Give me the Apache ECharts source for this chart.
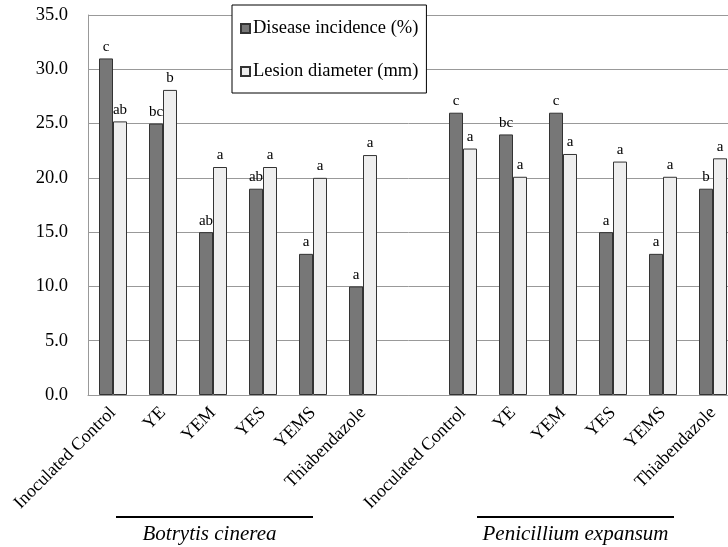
<!DOCTYPE html>
<html>
<head>
<meta charset="utf-8">
<script src="https://cdn.jsdelivr.net/npm/echarts@6/dist/echarts.min.js"></script>
<style>html,body{margin:0;padding:0;background:#fff;}#c{width:728px;height:547px;}</style>
</head>
<body>
<div id="c"></div>
<script>
var categories = ['Inoculated Control','YE','YEM','YES','YEMS','Thiabendazole','',
                  'Inoculated Control','YE','YEM','YES','YEMS','Thiabendazole'];
var diseaseIncidence = [31, 25, 15, 19, 13, 10, null, 26, 24, 26, 15, 13, 19];
var lesionDiameter   = [25.2, 28.1, 21, 21, 20, 22.1, null, 22.7, 20.1, 22.2, 21.5, 20.1, 21.8];
var diseaseLetters   = ['c','bc','ab','ab','a','a','', 'c','bc','c','a','a','b'];
var lesionLetters    = ['ab','b','a','a','a','a','', 'a','a','a','a','a','a'];
var yTicks = [0, 5, 10, 15, 20, 25, 30, 35];
var groupNames = ['Botrytis cinerea', 'Penicillium expansum'];

var serif = '"Liberation Serif", "Times New Roman", serif';
var chart = echarts.init(document.getElementById('c'));
chart.setOption({
  animation: false,
  backgroundColor: '#fff',
  grid: { left: 88, top: 15, width: 650, bottom: 152, containLabel: false, outerBoundsMode: 'none' },
  legend: {
    orient: 'vertical', left: 232, top: 5,
    padding: [14, 8, 12, 8], itemGap: 24,
    borderColor: '#000', borderWidth: 1, backgroundColor: '#fff',
    icon: 'rect', itemWidth: 9, itemHeight: 9,
    textStyle: { fontFamily: serif, fontSize: 18.5, color: '#000', padding: [0,0,0,-2] },
    data: ['Disease incidence (%)', 'Lesion diameter (mm)']
  },
  xAxis: {
    type: 'category', data: categories,
    axisLine: { lineStyle: { color: '#999', width: 1 } },
    axisTick: { length: 5, lineStyle: { color: '#999' } },
    axisLabel: { rotate: 45, interval: 0, margin: 15, fontFamily: serif, fontSize: 18, color: '#000' }
  },
  yAxis: {
    type: 'value', min: yTicks[0], max: yTicks[yTicks.length-1], interval: 5,
    axisLine: { show: true, lineStyle: { color: '#999' } },
    axisTick: { show: false },
    splitLine: { lineStyle: { color: '#999', width: 1 } },
    axisLabel: { margin: 20, fontFamily: serif, fontSize: 18.5, color: '#000',
                 formatter: function(v){ return v.toFixed(1); } }
  },
  series: [
    {
      name: 'Disease incidence (%)', type: 'bar', data: diseaseIncidence,
      barWidth: 14, barGap: '0%',
      itemStyle: { color: '#777777', borderColor: '#333', borderWidth: 1 },
      label: { show: true, position: 'top', distance: 4, fontFamily: serif, fontSize: 15, color: '#000',
               formatter: function(p){ return diseaseLetters[p.dataIndex]; } }
    },
    {
      name: 'Lesion diameter (mm)', type: 'bar', data: lesionDiameter,
      barWidth: 14, barGap: '0%',
      itemStyle: { color: '#eeeeee', borderColor: '#333', borderWidth: 1 },
      label: { show: true, position: 'top', distance: 4, fontFamily: serif, fontSize: 15, color: '#000',
               formatter: function(p){ return lesionLetters[p.dataIndex]; } }
    }
  ]
});

var c0 = chart.convertToPixel({xAxisIndex:0}, 0);
var c4 = chart.convertToPixel({xAxisIndex:0}, 4);
var c7 = chart.convertToPixel({xAxisIndex:0}, 7);
var c11 = chart.convertToPixel({xAxisIndex:0}, 11);
var lineY = 517, textY = 534;
chart.setOption({
  graphic: [
    { type: 'line', shape: { x1: c0 + 3, y1: lineY, x2: c4, y2: lineY }, style: { stroke: '#000', lineWidth: 1.8 } },
    { type: 'line', shape: { x1: c7 + 14, y1: lineY, x2: c11 + 11, y2: lineY }, style: { stroke: '#000', lineWidth: 1.8 } },
    { type: 'text', x: (c0 + 3 + c4) / 2 - 5, y: textY,
      style: { text: groupNames[0], font: 'italic 21px ' + serif, fill: '#000', textAlign: 'center', textVerticalAlign: 'middle' } },
    { type: 'text', x: (c7 + 14 + c11 + 11) / 2, y: textY,
      style: { text: groupNames[1], font: 'italic 21px ' + serif, fill: '#000', textAlign: 'center', textVerticalAlign: 'middle' } }
  ]
});
</script>
</body>
</html>
